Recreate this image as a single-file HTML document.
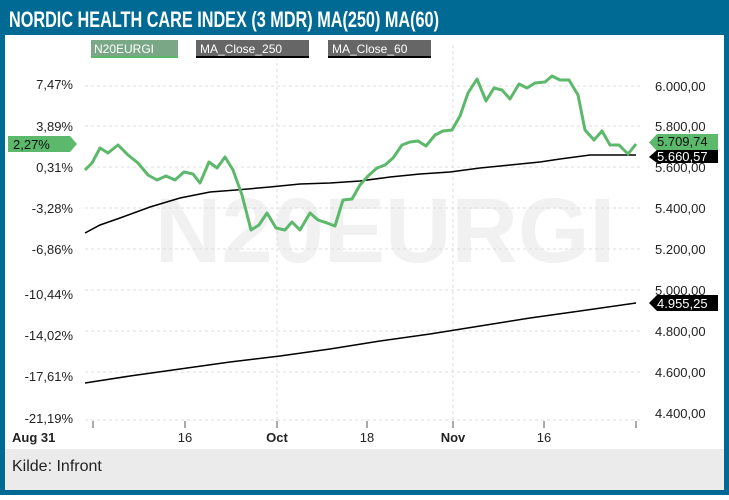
<!DOCTYPE html>
<html><head><meta charset="utf-8"><style>
body{margin:0;width:729px;height:495px;overflow:hidden;background:#fff;font-family:"Liberation Sans",sans-serif}
</style></head><body>
<svg width="729" height="495" xmlns="http://www.w3.org/2000/svg" font-family="Liberation Sans, sans-serif">
<rect x="0" y="0" width="729" height="495" fill="#006a94"/>
<rect x="5" y="35" width="719" height="455" fill="#fff"/>
<rect x="5" y="449" width="719" height="41" fill="#ebebeb"/>
<text x="9" y="27" font-size="22" font-weight="bold" fill="#fff" textLength="430" lengthAdjust="spacingAndGlyphs" font-family="Liberation Sans Narrow, Liberation Sans, sans-serif">NORDIC HEALTH CARE INDEX (3 MDR) MA(250) MA(60)</text>
<text x="12" y="471" font-size="16" fill="#222">Kilde: Infront</text>
<text x="385" y="262" font-size="92" font-weight="bold" fill="#f1f1f1" text-anchor="middle">N20EURGI</text>
<g stroke="#ddd" stroke-dasharray="3,3" stroke-width="1">
<line x1="85" x2="640" y1="86" y2="86"/><line x1="85" x2="640" y1="126" y2="126"/><line x1="85" x2="640" y1="167" y2="167"/><line x1="85" x2="640" y1="208" y2="208"/><line x1="85" x2="640" y1="249" y2="249"/><line x1="85" x2="640" y1="290" y2="290"/><line x1="85" x2="640" y1="331" y2="331"/><line x1="85" x2="640" y1="372" y2="372"/><line x1="85" x2="640" y1="420" y2="420"/>
<line x1="277" x2="277" y1="45" y2="425"/><line x1="453" x2="453" y1="45" y2="425"/>
</g>
<g stroke="#555" stroke-width="1">
<line x1="93" x2="93" y1="421" y2="428"/><line x1="185" x2="185" y1="421" y2="428"/><line x1="277" x2="277" y1="421" y2="428"/><line x1="367" x2="367" y1="421" y2="428"/><line x1="453" x2="453" y1="421" y2="428"/><line x1="544" x2="544" y1="421" y2="428"/><line x1="636" x2="636" y1="421" y2="428"/>
</g>
<g font-size="13" fill="#222">
<text x="12" y="442" font-weight="bold">Aug 31</text><text x="185" y="442" text-anchor="middle">16</text><text x="277" y="442" text-anchor="middle" font-weight="bold">Oct</text><text x="367" y="442" text-anchor="middle">18</text><text x="453" y="442" text-anchor="middle" font-weight="bold">Nov</text><text x="544" y="442" text-anchor="middle">16</text>
</g>
<g font-size="13" fill="#222" text-anchor="end">
<text x="73" y="89">7,47%</text><text x="73" y="131">3,89%</text><text x="73" y="172">0,31%</text><text x="73" y="213">-3,28%</text><text x="73" y="254">-6,86%</text><text x="73" y="299">-10,44%</text><text x="73" y="340">-14,02%</text><text x="73" y="381">-17,61%</text><text x="73" y="423">-21,19%</text>
</g>
<g font-size="13" fill="#222">
<text x="655" y="91">6.000,00</text><text x="655" y="131">5.800,00</text><text x="655" y="172">5.600,00</text><text x="655" y="213">5.400,00</text><text x="655" y="254">5.200,00</text><text x="655" y="295">5.000,00</text><text x="655" y="336">4.800,00</text><text x="655" y="377">4.600,00</text><text x="655" y="418">4.400,00</text>
</g>
<rect x="91" y="40" width="87" height="16" fill="#7aa887"/><line x1="91" x2="178" y1="57" y2="57" stroke="#5cb86a" stroke-width="2"/>
<text x="94" y="53" font-size="12" fill="#fff">N20EURGI</text>
<rect x="196" y="40" width="113" height="16" fill="#666"/><line x1="196" x2="309" y1="57" y2="57" stroke="#000" stroke-width="2"/>
<text x="200" y="53" font-size="12" fill="#fff">MA_Close_250</text>
<rect x="328" y="40" width="103" height="16" fill="#666"/><line x1="328" x2="431" y1="57" y2="57" stroke="#000" stroke-width="2"/>
<text x="332" y="53" font-size="12" fill="#fff">MA_Close_60</text>
<polyline fill="none" stroke="#000" stroke-width="1.5" points="85,233 100,225 120,218 150,207 180,198 210,192 236,190 270,187 300,184 330,183 360,181 390,177 420,174 450,172 480,168 510,165 540,162 560,159 590,155 636,155"/>
<polyline fill="none" stroke="#000" stroke-width="1.5" points="85,383 130,376 180,369 230,362 280,356 330,349 380,341 430,334 480,326 530,318 580,311 636,303"/>
<polyline fill="none" stroke="#5cb86a" stroke-width="3" stroke-linejoin="round" points="85,170 92,163 100,148 108,153 118,145 128,155 138,163 148,175 157,180 166,176 175,180 184,172 193,174 200,183 209,162 217,168 225,157 233,170 242,195 251,230 259,225 267,213 276,228 285,230 292,222 300,230 310,213 318,220 327,223 335,226 343,200 352,199 360,185 368,176 377,168 385,165 393,158 402,145 410,142 418,141 426,146 435,135 443,131 452,130 460,116 468,93 477,79 486,101 494,88 502,90 510,99 519,84 527,88 535,83 545,82 552,76 560,80 569,80 578,95 585,130 594,140 602,131 610,145 619,145 628,154 636,144"/>
<polygon points="8,136 70,136 77,144 70,152 8,152" fill="#5cb86a"/>
<text x="13" y="149" font-size="13" fill="#111">2,27%</text>
<polygon points="649,142.5 657,134 718,134 718,151 657,151" fill="#5cb86a"/>
<text x="657" y="146" font-size="13" fill="#111">5.709,74</text>
<polygon points="649,157 657,150 718,150 718,163 657,163" fill="#000"/>
<svg x="649" y="150" width="70" height="13" overflow="hidden"><text x="8" y="11" font-size="13" fill="#fff">5.660,57</text></svg>
<polygon points="649,303 657,295 718,295 718,311 657,311" fill="#000"/>
<text x="657" y="308" font-size="13" fill="#fff">4.955,25</text>
</svg>
</body></html>
